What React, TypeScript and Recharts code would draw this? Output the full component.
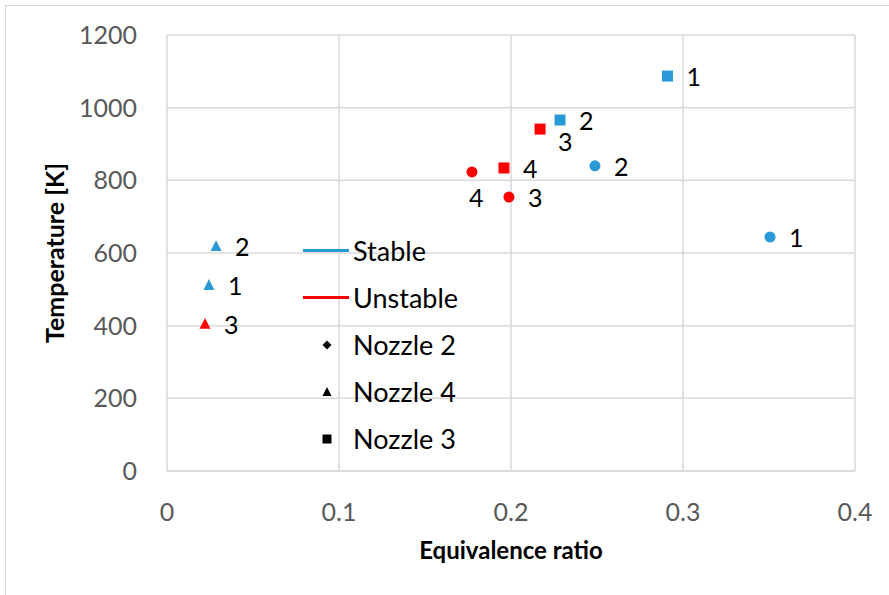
import React from 'react';
import { ScatterChart, Scatter, XAxis, YAxis, CartesianGrid, Legend } from 'recharts';

const xTicks = [0, 0.1, 0.2, 0.3, 0.4];
const yTicks = [0, 200, 400, 600, 800, 1000, 1200];

const stableNozzle3 = [
  { x: 0.291, y: 1087, label: '1' },
  { x: 0.2285, y: 966, label: '2' },
];
const stableNozzle2 = [
  { x: 0.3506, y: 644, label: '1' },
  { x: 0.2488, y: 840, label: '2' },
];
const stableNozzle4 = [
  { x: 0.0285, y: 619, label: '2' },
  { x: 0.0244, y: 512, label: '1' },
];
const unstableNozzle3 = [
  { x: 0.2169, y: 941, label: '3' },
  { x: 0.1959, y: 834, label: '4' },
];
const unstableNozzle2 = [
  { x: 0.1773, y: 823, label: '4' },
  { x: 0.1988, y: 754, label: '3' },
];
const unstableNozzle4 = [{ x: 0.0221, y: 405, label: '3' }];

const legendLines = [
  { name: 'Stable', color: '#2A9AD6' },
  { name: 'Unstable', color: '#FF0000' },
];
const legendMarkers = [
  { name: 'Nozzle 2', shape: 'diamond' },
  { name: 'Nozzle 4', shape: 'triangle' },
  { name: 'Nozzle 3', shape: 'square' },
];

// label placement overrides (default: right of marker)
const labelPlacement: Record<string, 'right' | 'below' | 'belowRight'> = {
  'u3-3': 'belowRight',
  'u2-4': 'below',
};

const BLUE = '#2A9AD6';
const RED = '#FF0000';
const FONT = 'Lato, "Open Sans", sans-serif';

function marker(shape: string, cx: number, cy: number, color: string, s: number) {
  if (shape === 'square') {
    return <rect x={cx - s / 2} y={cy - s / 2} width={s} height={s} fill={color} />;
  }
  if (shape === 'circle') {
    return <circle cx={cx} cy={cy} r={s / 2} fill={color} />;
  }
  if (shape === 'triangle') {
    const h = s * 0.9;
    return (
      <polygon
        points={`${cx},${cy - h / 2 - 1} ${cx + s / 2},${cy + h / 2} ${cx - s / 2},${cy + h / 2}`}
        fill={color}
      />
    );
  }
  // diamond
  return (
    <polygon
      points={`${cx},${cy - s / 2} ${cx + s / 2},${cy} ${cx},${cy + s / 2} ${cx - s / 2},${cy}`}
      fill={color}
    />
  );
}

function makeShape(key: string, shape: string, color: string) {
  return (props: any) => {
    const { cx, cy, payload } = props;
    const place = labelPlacement[`${key}-${payload.label}`] || 'right';
    let lx = cx + 19;
    let ly = cy + 10;
    if (place === 'belowRight') {
      lx = cx + 18;
      ly = cy + 22;
    } else if (place === 'below') {
      lx = cx - 3;
      ly = cy + 35;
    }
    return (
      <g>
        {marker(shape, cx, cy, color, 11)}
        <text x={lx} y={ly} fontSize={25} fontFamily={FONT} fill="#000">
          {payload.label}
        </text>
      </g>
    );
  };
}

const YTick = (props: any) => {
  const { y, payload } = props;
  return (
    <text x={137} y={y + 9} textAnchor="end" fontSize={25} fontFamily={FONT} fill="#595959">
      {payload.value}
    </text>
  );
};

const XTick = (props: any) => {
  const { x, payload } = props;
  return (
    <text x={x} y={521} textAnchor="middle" fontSize={25} fontFamily={FONT} fill="#595959">
      {payload.value}
    </text>
  );
};

const LegendContent = () => (
  <div style={{ fontFamily: FONT, fontSize: 27, color: '#000', lineHeight: '47px' }}>
    {legendLines.map((l) => (
      <div key={l.name} style={{ display: 'flex', alignItems: 'center', height: 47 }}>
        <div style={{ width: 46, height: 3, background: l.color, marginRight: 4 }} />
        <span>{l.name}</span>
      </div>
    ))}
    {legendMarkers.map((m) => (
      <div key={m.name} style={{ display: 'flex', alignItems: 'center', height: 47 }}>
        <svg width={50} height={20} style={{ display: 'block' }}>
          {marker(m.shape, 24, 10, '#000', 9)}
        </svg>
        <span>{m.name}</span>
      </div>
    ))}
  </div>
);

export default function App() {
  return (
    <div style={{ position: 'absolute', left: 0, top: 0, width: 889, height: 595, background: '#fff', overflow: 'hidden' }}>
      <div
        style={{
          position: 'absolute',
          left: 5,
          top: 5,
          width: 900,
          height: 600,
          border: '1px solid #d9d9d9',
        }}
      />
      <ScatterChart
        width={889}
        height={595}
        margin={{ top: 35, right: 34, left: 0, bottom: 0 }}
        style={{ position: 'absolute', left: 0, top: 0 }}
      >
        <CartesianGrid stroke="#d9d9d9" strokeWidth={1.5} />
        <XAxis
          type="number"
          dataKey="x"
          domain={[0, 0.4]}
          ticks={xTicks}
          tick={<XTick />}
          tickLine={false}
          axisLine={{ stroke: '#d9d9d9', strokeWidth: 1.5 }}
          height={124}
          label={{
            value: 'Equivalence ratio',
            position: 'insideBottom',
            offset: 36,
            style: { fontFamily: FONT, fontSize: 24, fontWeight: 700, fill: '#000' },
          }}
        />
        <YAxis
          type="number"
          dataKey="y"
          domain={[0, 1200]}
          ticks={yTicks}
          tick={<YTick />}
          tickLine={false}
          axisLine={false}
          width={167}
          label={{
            value: 'Temperature [K]',
            angle: -90,
            position: 'insideLeft',
            offset: 55,
            style: { fontFamily: FONT, fontSize: 25, fontWeight: 700, fill: '#000', textAnchor: 'middle' },
          }}
        />
        <Legend
          layout="horizontal"
          verticalAlign="middle"
          align="center"
          content={<LegendContent />}
          wrapperStyle={{ position: 'absolute', left: 303, top: 227, width: 220, height: 240 }}
        />
        <Scatter name="s3" data={stableNozzle3} shape={makeShape('s3', 'square', BLUE)} isAnimationActive={false} legendType="none" />
        <Scatter name="s2" data={stableNozzle2} shape={makeShape('s2', 'circle', BLUE)} isAnimationActive={false} legendType="none" />
        <Scatter name="s4" data={stableNozzle4} shape={makeShape('s4', 'triangle', BLUE)} isAnimationActive={false} legendType="none" />
        <Scatter name="u3" data={unstableNozzle3} shape={makeShape('u3', 'square', RED)} isAnimationActive={false} legendType="none" />
        <Scatter name="u2" data={unstableNozzle2} shape={makeShape('u2', 'circle', RED)} isAnimationActive={false} legendType="none" />
        <Scatter name="u4" data={unstableNozzle4} shape={makeShape('u4', 'triangle', RED)} isAnimationActive={false} legendType="none" />
      </ScatterChart>
    </div>
  );
}
